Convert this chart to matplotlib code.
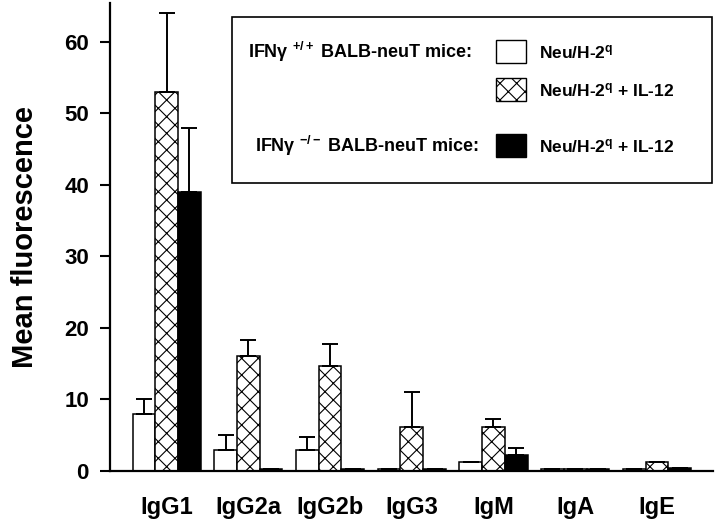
import matplotlib
matplotlib.use('Agg')
import matplotlib.pyplot as plt
import numpy as np
from matplotlib.patches import Rectangle

plt.rcParams['font.family'] = ['Liberation Sans', 'DejaVu Sans']
plt.rcParams['font.weight'] = 'bold'
plt.rcParams['mathtext.fontset'] = 'custom'
plt.rcParams['mathtext.rm'] = 'Liberation Sans:bold'
plt.rcParams['mathtext.it'] = 'Liberation Sans:bold'
plt.rcParams['mathtext.bf'] = 'Liberation Sans:bold'
plt.rcParams['hatch.linewidth'] = 0.8

# data
isotypes = ['IgG1', 'IgG2a', 'IgG2b', 'IgG3', 'IgM', 'IgA', 'IgE']
neu_wt = [8.0, 3.0, 3.0, 0.3, 1.2, 0.3, 0.3]
neu_wt_err = [2.0, 2.0, 1.8, 0.0, 0.0, 0.0, 0.0]
neu_il12_wt = [53.0, 16.0, 14.7, 6.2, 6.2, 0.3, 1.2]
neu_il12_wt_err = [11.0, 2.3, 3.0, 4.9, 1.0, 0.0, 0.0]
neu_il12_ko = [39.0, 0.3, 0.3, 0.3, 2.2, 0.3, 0.4]
neu_il12_ko_err = [9.0, 0.0, 0.0, 0.0, 1.0, 0.0, 0.0]
yticks = [0, 10, 20, 30, 40, 50, 60]

fig = plt.figure(figsize=(7.2, 5.25), dpi=100)
ax = fig.add_axes([0.1528, 0.1029, 0.8375, 0.8914])

x = np.arange(len(isotypes))
w = 0.278
ekw = dict(elinewidth=1.4, capthick=1.4, capsize=6, ecolor='black')

def upper_err(v):
    return [np.zeros(len(v)), v]

ax.bar(x - w, neu_wt, w, color='white', edgecolor='black', linewidth=1.1,
       yerr=upper_err(neu_wt_err), error_kw=ekw)
ax.bar(x, neu_il12_wt, w, color='white', edgecolor='black', linewidth=1.1,
       hatch='xx', yerr=upper_err(neu_il12_wt_err), error_kw=ekw)
ax.bar(x + w, neu_il12_ko, w, color='black', edgecolor='black', linewidth=1.1,
       yerr=upper_err(neu_il12_ko_err), error_kw=ekw)

ax.set_xlim(-0.694, 6.687)
ax.set_ylim(0, 65.4)
ax.set_yticks(yticks)
ax.set_yticklabels([str(t) for t in yticks], fontsize=16, fontweight='bold')
ax.set_xticks(x)
ax.set_xticklabels(isotypes, fontsize=17, fontweight='bold')
ax.tick_params(axis='x', length=0, pad=18)
ax.tick_params(axis='y', direction='out', length=7.2, width=1.5, pad=8)
ax.spines['top'].set_visible(False)
ax.spines['right'].set_visible(False)
ax.spines['left'].set_linewidth(1.6)
ax.spines['bottom'].set_linewidth(1.6)
ax.set_ylabel('Mean fluorescence', fontsize=21, fontweight='bold', labelpad=18)

# legend box drawn by hand, in figure pixels from top-left
def fx(px):
    return px / 720.0

def fy(py):
    return 1 - py / 525.0

fig.patches.append(Rectangle((fx(232), fy(183)), fx(712) - fx(232), fy(17) - fy(183),
                             transform=fig.transFigure, facecolor='white',
                             edgecolor='black', linewidth=1.2, zorder=5))
legend_rows = [
    ('IFNγ $^{+/+}$ BALB-neuT mice:', 52, dict(facecolor='white', hatch=None), 'Neu/H-2$^{q}$'),
    (None, 90, dict(facecolor='white', hatch='xx'), 'Neu/H-2$^{q}$ + IL-12'),
    ('IFNγ $^{-/-}$ BALB-neuT mice:', 146, dict(facecolor='black', hatch=None), 'Neu/H-2$^{q}$ + IL-12'),
]
for group_txt, yc, style, entry in legend_rows:
    if group_txt:
        fig.text(fx(248 if yc < 100 else 255), fy(yc), group_txt, fontsize=13,
                 fontweight='bold', va='center', ha='left', zorder=6)
    fig.patches.append(Rectangle((fx(496), fy(yc + 11)), fx(526) - fx(496), fy(yc - 12) - fy(yc + 11),
                                 transform=fig.transFigure, edgecolor='black',
                                 linewidth=1.0, zorder=6, **style))
    fig.text(fx(539), fy(yc), entry, fontsize=12.5, fontweight='bold',
             va='center', ha='left', zorder=6)

fig.savefig('out.png', dpi=100)
